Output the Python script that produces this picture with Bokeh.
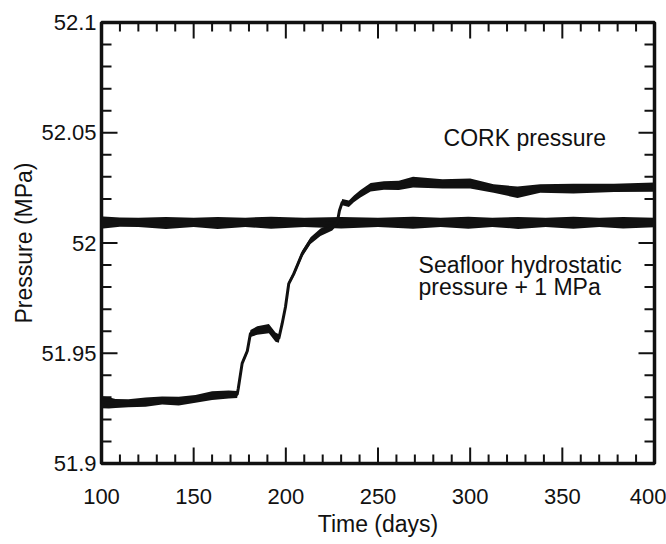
import math
from bokeh.plotting import figure
from bokeh.models import FixedTicker, Range1d, ColumnDataSource
from bokeh.core.properties import value
from bokeh.embed import file_html
from bokeh.resources import INLINE

# ---------------- data ----------------
cork_day = [100, 104, 107.6, 114.6, 123.9, 132.9, 141.9, 151, 160, 169, 173.6,
            174.2, 176.3, 179.1, 180.8, 184.5, 190.8, 194.4, 196.2, 198, 199.8,
            201.6, 204.3, 208.9, 213.4, 218.8, 225.2, 227.9, 229.1, 230.6, 234.2,
            236.9, 240.5, 246, 253.2, 261.3, 269, 285, 300, 312.7, 325.7, 338,
            356, 378, 400]
cork_p = [51.9278, 51.9275, 51.9272, 51.9273, 51.9278, 51.9286, 51.9283, 51.9293,
          51.9308, 51.9313, 51.9313,
          51.9340, 51.9454, 51.9510, 51.9590, 51.9603, 51.9612, 51.9573, 51.9567,
          51.9634, 51.9710,
          51.9816, 51.9860, 51.9952, 52.0011, 52.0049, 52.0072, 52.0094, 52.0147,
          52.0185, 52.0178,
          52.0200, 52.0223, 52.0253, 52.0261, 52.0261, 52.0276, 52.0268, 52.0270,
          52.0247, 52.0230, 52.0247,
          52.0247, 52.0250, 52.0253]
cork_half = [0.0027, 0.0025, 0.0020, 0.0018, 0.0021, 0.0018, 0.0020, 0.0018,
             0.0020, 0.0018, 0.0016,
             0.0010, 0.0010, 0.0012, 0.0016, 0.0019, 0.0021, 0.0021, 0.0019,
             0.0012, 0.0010,
             0.0010, 0.0012, 0.0014, 0.0015, 0.0017, 0.0015, 0.0012, 0.0010,
             0.0014, 0.0015,
             0.0015, 0.0017, 0.0019, 0.0019, 0.0021, 0.0024, 0.0021, 0.0023,
             0.0019, 0.0026, 0.0019,
             0.0022, 0.0019, 0.0021]

sf_day = [100, 101, 110, 120, 135, 150, 163, 178, 192, 210, 230, 250, 269,
          284, 299, 312, 326, 341, 356, 370, 383, 400]
sf_p = [52.0095, 52.0093, 52.0095, 52.0094, 52.0091, 52.0094, 52.0091, 52.0094,
        52.0092, 52.0094, 52.0092, 52.0094, 52.0092, 52.0094, 52.0092, 52.0094,
        52.0091, 52.0094, 52.0092, 52.0094, 52.0092, 52.0093]
sf_half = [0.0027, 0.0027, 0.0021, 0.0021, 0.0027, 0.0021, 0.0027, 0.0021,
           0.0027, 0.0021, 0.0026, 0.0021, 0.0027, 0.0021, 0.0027, 0.0021,
           0.0027, 0.0021, 0.0027, 0.0021, 0.0026, 0.0022]

x_ticks = [100, 150, 200, 250, 300, 350, 400]
x_tick_labels = ["100", "150", "200", "250", "300", "350", "400"]
x_minor = [110, 120, 130, 140, 160, 170, 180, 190, 210, 220, 230, 240, 260, 270,
           280, 290, 310, 320, 330, 340, 360, 370, 380, 390]
y_ticks = [51.9, 51.95, 52.0, 52.05, 52.1]
y_tick_labels = ["51.9", "51.95", "52", "52.05", "52.1"]
y_minor = [51.91, 51.92, 51.93, 51.94, 51.96, 51.97, 51.98, 51.99,
           52.01, 52.02, 52.03, 52.04, 52.06, 52.07, 52.08, 52.09]

x_title = "Time (days)"
y_title = "Pressure (MPa)"
cork_label = "CORK pressure"
sf_label_1 = "Seafloor hydrostatic"
sf_label_2 = "pressure + 1 MPa"

X0, X1 = 100, 400
Y0, Y1 = 51.9, 52.1

# ---------------- figure ----------------
INK = "#111111"
FONT = "Liberation Sans"

p = figure(width=666, height=544,
           x_range=Range1d(X0, X1), y_range=Range1d(Y0, Y1),
           output_backend="svg", toolbar_location=None,
           min_border_left=101, min_border_right=12,
           min_border_top=22, min_border_bottom=81)
p.grid.visible = False
p.outline_line_color = INK
p.outline_line_width = 3.5
p.background_fill_color = "white"
p.border_fill_color = "white"

cork_src = ColumnDataSource(dict(
    x=cork_day, y=cork_p,
    lo=[v - h for v, h in zip(cork_p, cork_half)],
    hi=[v + h for v, h in zip(cork_p, cork_half)]))
sf_src = ColumnDataSource(dict(
    x=sf_day, y=sf_p,
    lo=[v - h for v, h in zip(sf_p, sf_half)],
    hi=[v + h for v, h in zip(sf_p, sf_half)]))

for src in (sf_src, cork_src):
    p.varea(x="x", y1="lo", y2="hi", source=src, fill_color=INK)
    p.line(x="x", y="y", source=src, line_color=INK, line_width=3)

# in-plot labels
txt = dict(text_font=value(FONT), text_font_size="23px", text_color=INK,
           text_baseline="alphabetic", text_align="left")
p.text(x=[285.6], y=[52.0476], text=[cork_label], **txt)
p.text(x=[272.0], y=[51.9901], text=[sf_label_1], **txt)
p.text(x=[272.0], y=[51.9801], text=[sf_label_2], **txt)

# inward tick marks on all four sides (dash markers centred on the frame edge,
# the outer half is clipped away by the frame)
tick = dict(marker="dash", line_color=INK, line_width=2)
for xs, sz in ((x_ticks, 32), (x_minor, 18)):
    for yy in (Y0, Y1):
        p.scatter(x=xs, y=[yy] * len(xs), size=sz, angle=math.pi / 2, **tick)
for ys, sz in ((y_ticks, 32), (y_minor, 20)):
    for xx in (X0, X1):
        p.scatter(x=[xx] * len(ys), y=ys, size=sz, angle=0, **tick)

# ---------------- axes ----------------
x_over = {t: l for t, l in zip(x_ticks, x_tick_labels)}
y_over = {t: l for t, l in zip(y_ticks, y_tick_labels)}


def style(ax):
    ax.axis_line_color = None
    ax.major_tick_line_color = None
    ax.minor_tick_line_color = None
    ax.major_tick_in = 0
    ax.major_tick_out = 0
    ax.minor_tick_in = 0
    ax.minor_tick_out = 0
    ax.major_label_text_font = FONT
    ax.major_label_text_font_size = "22px"
    ax.major_label_text_color = INK
    ax.axis_label_text_font = FONT
    ax.axis_label_text_font_size = "23px"
    ax.axis_label_text_font_style = "normal"
    ax.axis_label_text_color = INK


xa = p.xaxis[0]
style(xa)
xa.ticker = FixedTicker(ticks=x_ticks)
xa.major_label_overrides = x_over
xa.major_label_standoff = 25
xa.axis_label = x_title
xa.axis_label_standoff = 4
xa.axis_label_text_baseline = "middle"

ya = p.yaxis[0]
style(ya)
ya.ticker = FixedTicker(ticks=y_ticks)
ya.major_label_overrides = y_over
ya.major_label_standoff = 5
ya.axis_label = y_title
ya.axis_label_standoff = 1

open("out.html", "w").write(file_html(p, INLINE))
